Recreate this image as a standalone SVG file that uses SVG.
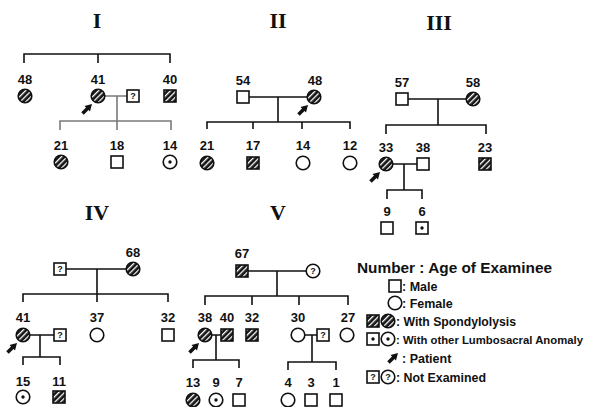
<svg xmlns="http://www.w3.org/2000/svg" xmlns:xlink="http://www.w3.org/1999/xlink" width="600" height="407" viewBox="0 0 600 407">
  <style>
    .ln { fill: none; stroke: #111; stroke-width: 1.6; }
    .lg { fill: none; stroke: #7a7a7a; stroke-width: 1.6; }
    .num { font-family: "Liberation Sans", Arial, sans-serif; font-weight: bold; font-size: 13px; fill: #111; text-anchor: middle; }
    .ttl { font-family: "Liberation Serif", "DejaVu Serif", serif; font-weight: bold; font-size: 22px; fill: #111; text-anchor: middle; }
    .leg { font-family: "Liberation Sans", Arial, sans-serif; font-weight: bold; font-size: 12.5px; fill: #111; }
    .legs { font-family: "Liberation Sans", Arial, sans-serif; font-weight: bold; font-size: 11px; fill: #111; }
    .legh { font-family: "Liberation Sans", Arial, sans-serif; font-weight: bold; font-size: 15px; fill: #111; }
    .q { font-family: "Liberation Sans", sans-serif; font-weight: bold; font-size: 9px; fill: #111; text-anchor: middle; }
  </style>
  <defs>
    <pattern id="hatch" patternUnits="userSpaceOnUse" width="4" height="4" patternTransform="rotate(45)">
      <rect width="4" height="4" fill="#151515"/>
      <rect width="1.3" height="4" fill="#fff"/>
    </pattern>
    <!-- pedigree symbols, centred on 0,0 -->
    <g id="sqM"><rect x="-6" y="-6" width="12" height="12" fill="#fff" stroke="#111" stroke-width="1.6"/></g>
    <g id="ciF"><circle r="6.8" fill="#fff" stroke="#111" stroke-width="1.6"/></g>
    <g id="sqH"><rect x="-6" y="-6" width="12" height="12" fill="url(#hatch)" stroke="#111" stroke-width="1.6"/></g>
    <g id="ciH"><circle r="6.8" fill="url(#hatch)" stroke="#111" stroke-width="1.6"/></g>
    <g id="sqD"><rect x="-6" y="-6" width="12" height="12" fill="#fff" stroke="#111" stroke-width="1.6"/><circle r="1.7" fill="#111"/></g>
    <g id="ciD"><circle r="6.8" fill="#fff" stroke="#111" stroke-width="1.6"/><circle r="1.7" fill="#111"/></g>
    <g id="sqQ"><rect x="-6" y="-6" width="12" height="12" fill="#fff" stroke="#111" stroke-width="1.6"/><text class="q" y="3.3">?</text></g>
    <g id="ciQ"><circle r="6.8" fill="#fff" stroke="#111" stroke-width="1.6"/><text class="q" y="3.3">?</text></g>
    <!-- patient marker: tip at 0,0 pointing up-right -->
    <g id="pt"><path d="M-3,3 L-9.5,9.5" stroke="#111" stroke-width="3.6" fill="none"/><polygon points="0,0 -2,7.5 -7.5,2" fill="#111"/></g>
  </defs>

  <rect width="600" height="407" fill="#fff"/>

  <!-- family titles -->
  <g id="titles">
    <text class="ttl" x="97" y="28">I</text>
    <text class="ttl" x="278" y="28">II</text>
    <text class="ttl" x="439" y="30">III</text>
    <text class="ttl" x="97" y="220">IV</text>
    <text class="ttl" x="278" y="220">V</text>
  </g>

  <!-- connectors -->
  <g id="connectors">
    <!-- family I -->
    <path class="ln" d="M24,63 V54 H170 V63 M98,54 V63"/>
    <path class="lg" d="M105,96 H127 M117,96 V121 M60,130 V121 H171 V130 M117,121 V130"/>
    <!-- family II -->
    <path class="ln" d="M249,97 H307 M278,97 V122 M207,129 V122 H350 V129 M253,122 V129 M302,122 V129"/>
    <!-- family III -->
    <path class="ln" d="M408,99 H466 M438,99 V125 M386,134 V125 H486 V134"/>
    <path class="ln" d="M393,164 H417 M404,164 V190 M387,199 V190 H422 V199"/>
    <!-- family IV -->
    <path class="ln" d="M66,269 H126 M97,269 V294 M23,302 V294 H168 V302 M97,294 V302"/>
    <path class="ln" d="M30,335 H54 M40,335 V357 M23,365 V357 H60 V365"/>
    <!-- family V -->
    <path class="ln" d="M248,271 H306 M277,271 V296 M205,305 V296 H348 V305 M252,296 V305 M299,296 V305"/>
    <path class="ln" d="M212,335 H221 M216,335 V360 M193,368 V360 H239 V368"/>
    <path class="ln" d="M305,335 H317 M312,335 V362 M288,370 V362 H336 V370"/>
  </g>

  <!-- family I nodes -->
  <g id="I-48"><use xlink:href="#ciH" x="25" y="96"/><text class="num" x="25" y="84">48</text></g>
  <g id="I-41"><use xlink:href="#ciH" x="98" y="96"/><text class="num" x="98" y="84">41</text><use xlink:href="#pt" x="92" y="104"/></g>
  <g id="I-41-spouse"><use xlink:href="#sqQ" x="133" y="96"/></g>
  <g id="I-40"><use xlink:href="#sqH" x="170" y="96"/><text class="num" x="170" y="84">40</text></g>
  <g id="I-21"><use xlink:href="#ciH" x="61" y="162"/><text class="num" x="61" y="150">21</text></g>
  <g id="I-18"><use xlink:href="#sqM" x="117" y="162"/><text class="num" x="117" y="150">18</text></g>
  <g id="I-14"><use xlink:href="#ciD" x="170" y="162"/><text class="num" x="170" y="150">14</text></g>

  <!-- family II nodes -->
  <g id="II-54"><use xlink:href="#sqM" x="243" y="97"/><text class="num" x="243" y="85">54</text></g>
  <g id="II-48"><use xlink:href="#ciH" x="314" y="97"/><text class="num" x="315" y="85">48</text><use xlink:href="#pt" x="308" y="105"/></g>
  <g id="II-21"><use xlink:href="#ciH" x="207" y="163"/><text class="num" x="207" y="150">21</text></g>
  <g id="II-17"><use xlink:href="#sqH" x="253" y="163"/><text class="num" x="253" y="150">17</text></g>
  <g id="II-14"><use xlink:href="#ciF" x="303" y="163"/><text class="num" x="303" y="150">14</text></g>
  <g id="II-12"><use xlink:href="#ciF" x="350" y="163"/><text class="num" x="350" y="150">12</text></g>

  <!-- family III nodes -->
  <g id="III-57"><use xlink:href="#sqM" x="402" y="99"/><text class="num" x="402" y="87">57</text></g>
  <g id="III-58"><use xlink:href="#ciH" x="473" y="99"/><text class="num" x="473" y="87">58</text></g>
  <g id="III-33"><use xlink:href="#ciH" x="386" y="164"/><text class="num" x="386" y="152">33</text><use xlink:href="#pt" x="380" y="172"/></g>
  <g id="III-38"><use xlink:href="#sqM" x="423" y="164"/><text class="num" x="423" y="152">38</text></g>
  <g id="III-23"><use xlink:href="#sqH" x="485" y="164"/><text class="num" x="485" y="152">23</text></g>
  <g id="III-9"><use xlink:href="#sqM" x="387" y="228"/><text class="num" x="387" y="216">9</text></g>
  <g id="III-6"><use xlink:href="#sqD" x="422" y="228"/><text class="num" x="422" y="216">6</text></g>

  <!-- family IV nodes -->
  <g id="IV-father"><use xlink:href="#sqQ" x="60" y="269"/></g>
  <g id="IV-68"><use xlink:href="#ciH" x="133" y="269"/><text class="num" x="133" y="257">68</text></g>
  <g id="IV-41"><use xlink:href="#ciH" x="23" y="335"/><text class="num" x="23" y="322">41</text><use xlink:href="#pt" x="17" y="343"/></g>
  <g id="IV-41-spouse"><use xlink:href="#sqQ" x="60" y="335"/></g>
  <g id="IV-37"><use xlink:href="#ciF" x="97" y="335"/><text class="num" x="97" y="322">37</text></g>
  <g id="IV-32"><use xlink:href="#sqM" x="168" y="335"/><text class="num" x="168" y="322">32</text></g>
  <g id="IV-15"><use xlink:href="#ciD" x="23" y="397"/><text class="num" x="23" y="386">15</text></g>
  <g id="IV-11"><use xlink:href="#sqH" x="59" y="397"/><text class="num" x="59" y="386">11</text></g>

  <!-- family V nodes -->
  <g id="V-67"><use xlink:href="#sqH" x="242" y="271"/><text class="num" x="242" y="258">67</text></g>
  <g id="V-mother"><use xlink:href="#ciQ" x="313" y="271"/></g>
  <g id="V-38"><use xlink:href="#ciH" x="205" y="335"/><text class="num" x="205" y="322">38</text><use xlink:href="#pt" x="199" y="343"/></g>
  <g id="V-40"><use xlink:href="#sqH" x="227" y="335"/><text class="num" x="227" y="322">40</text></g>
  <g id="V-32"><use xlink:href="#sqH" x="252" y="335"/><text class="num" x="252" y="322">32</text></g>
  <g id="V-30"><use xlink:href="#ciF" x="298" y="335"/><text class="num" x="298" y="322">30</text></g>
  <g id="V-30-spouse"><use xlink:href="#sqQ" x="323" y="335"/></g>
  <g id="V-27"><use xlink:href="#ciF" x="347" y="335"/><text class="num" x="348" y="322">27</text></g>
  <g id="V-13"><use xlink:href="#ciH" x="193" y="400"/><text class="num" x="193" y="387">13</text></g>
  <g id="V-9"><use xlink:href="#ciD" x="216" y="400"/><text class="num" x="216" y="387">9</text></g>
  <g id="V-7"><use xlink:href="#sqM" x="239" y="400"/><text class="num" x="239" y="387">7</text></g>
  <g id="V-4"><use xlink:href="#ciF" x="288" y="400"/><text class="num" x="288" y="387">4</text></g>
  <g id="V-3"><use xlink:href="#sqM" x="311" y="400"/><text class="num" x="311" y="387">3</text></g>
  <g id="V-1"><use xlink:href="#sqM" x="336" y="400"/><text class="num" x="336" y="387">1</text></g>

  <!-- legend -->
  <g id="legend">
    <text class="legh" x="357" y="273" textLength="195" lengthAdjust="spacingAndGlyphs">Number : Age of Examinee</text>
    <use xlink:href="#sqM" x="395" y="286"/>
    <text class="leg" x="402" y="291">: Male</text>
    <use xlink:href="#ciF" x="395" y="303"/>
    <text class="leg" x="402" y="308">: Female</text>
    <use xlink:href="#sqH" x="373" y="321"/>
    <use xlink:href="#ciH" x="388" y="321"/>
    <text class="leg" x="396" y="326" textLength="120" lengthAdjust="spacingAndGlyphs">: With Spondylolysis</text>
    <use xlink:href="#sqD" x="373" y="339"/>
    <use xlink:href="#ciD" x="388" y="339"/>
    <text class="legs" x="396" y="344" textLength="187" lengthAdjust="spacingAndGlyphs">: With other Lumbosacral Anomaly</text>
    <use xlink:href="#pt" x="398" y="353"/>
    <text class="leg" x="402" y="363">: Patient</text>
    <use xlink:href="#sqQ" x="373" y="377"/>
    <use xlink:href="#ciQ" x="388" y="377"/>
    <text class="leg" x="396" y="382" textLength="90" lengthAdjust="spacingAndGlyphs">: Not Examined</text>
  </g>
</svg>
